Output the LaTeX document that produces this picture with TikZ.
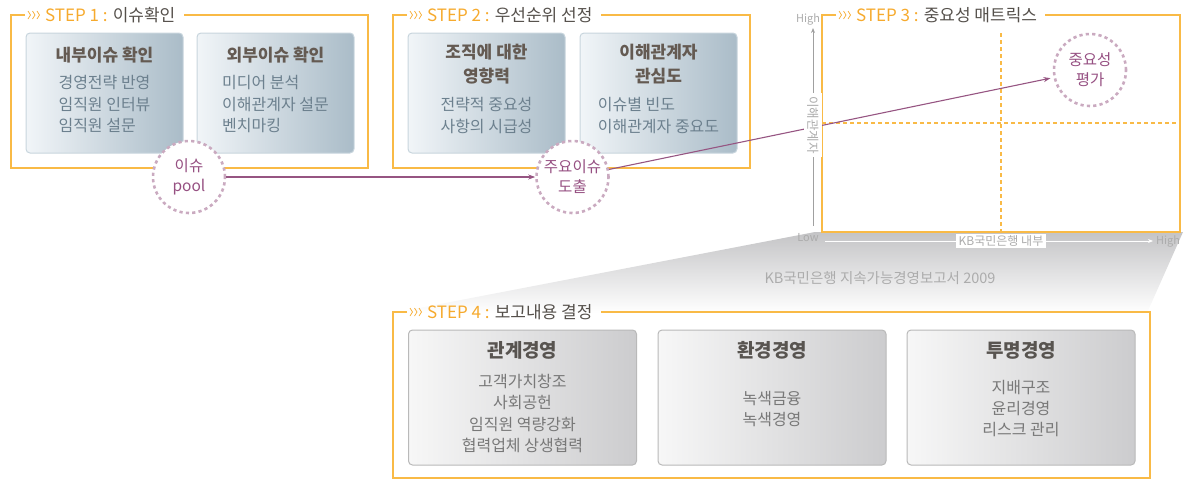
\documentclass[tikz,border=0pt]{standalone}
\usepackage{fontspec}
\setmainfont{Noto Sans CJK KR}
\usetikzlibrary{arrows.meta}
\definecolor{framec}{RGB}{249,186,70}
\definecolor{stepor}{RGB}{246,170,45}
\definecolor{titlec}{RGB}{85,80,75}
\definecolor{pline}{RGB}{150,85,130}
\definecolor{pdash}{RGB}{202,170,192}
\definecolor{ptext}{RGB}{150,80,130}
\definecolor{blueL}{RGB}{241,245,248}
\definecolor{blueR}{RGB}{170,188,200}
\definecolor{bluebd}{RGB}{200,213,221}
\definecolor{btitlec}{RGB}{100,90,82}
\definecolor{bbodyc}{RGB}{108,128,142}
\definecolor{grayL}{RGB}{247,247,247}
\definecolor{grayR}{RGB}{204,204,206}
\definecolor{graybd}{RGB}{185,185,185}
\definecolor{gtitlec}{RGB}{88,84,80}
\definecolor{gbodyc}{RGB}{120,120,120}
\definecolor{shadeT}{RGB}{196,196,198}
\definecolor{axisc}{RGB}{160,160,160}
\definecolor{axlabc}{RGB}{172,172,172}
\tikzset{
  frame/.style={draw=framec, line width=1.3pt},
  framedash/.style={draw=framec, line width=1.2pt, dash pattern=on 4pt off 3pt},
  steptitle/.style={anchor=west, inner sep=1pt, text=stepor, font=\fontsize{17}{17}\selectfont},
  chev/.pic={\foreach \i in {0,4.5,9} \draw[draw=stepor, line width=0.7pt] (\i,-4) -- (\i+2.5,0) -- (\i,4);},
  bluebox/.style={rounded corners=4pt, draw=bluebd, line width=1pt, left color=blueL, right color=blueR, minimum width=157pt, minimum height=120pt, inner sep=0pt},
  graybox/.style={rounded corners=4pt, draw=graybd, line width=1pt, left color=grayL, right color=grayR, minimum width=228pt, minimum height=135pt, inner sep=0pt},
  btitle/.style={text=btitlec, align=center, font=\bfseries\fontsize{17}{24}\selectfont, inner sep=0pt},
  bbody/.style={text=bbodyc, align=left, font=\fontsize{16}{21.5}\selectfont, inner sep=0pt},
  gtitle/.style={text=gtitlec, align=center, font=\bfseries\fontsize{19}{24}\selectfont, inner sep=0pt},
  gbody/.style={text=gbodyc, align=center, font=\fontsize{16}{21.3}\selectfont, inner sep=0pt},
  pcircle/.style={circle, minimum size=72pt, inner sep=0pt, draw=pdash, line width=2.6pt, dash pattern=on 3.2pt off 3.2pt, fill=white, text=ptext, align=center, font=\fontsize{15.5}{20}\selectfont},
  parrow/.style={draw=pline, line width=1.1pt, -{Stealth[length=7pt,width=5pt]}},
  axlab/.style={text=axlabc, inner sep=0pt, font=\fontsize{11}{11}\selectfont},
}
\begin{document}
\begin{tikzpicture}[x=1pt,y=-1pt]
\useasboundingbox (0,0) rectangle (1185,480);

% grey projection
\shade[top color=shadeT, bottom color=white] (815,232) -- (1183,232) -- (1147,313) -- (393,313) -- cycle;

% STEP 1
\pic at (28,15) {chev};
\node[steptitle] (t1) at (44,15) {STEP 1 : \textcolor{titlec}{이슈확인}};
\draw[frame] (25,15) -- (11,15) -- (11,168) -- (368,168) -- (368,15) -- ([xshift=7pt]t1.east);
\node[bluebox] (b11) at (104.5,93) {};
\node[btitle] (b11t) at (104.5,55) {내부이슈 확인};
\node[bbody] (b11b) at (104.5,104.5) {경영전략 반영\\임직원 인터뷰\\임직원 설문};
\node[bluebox] (b12) at (275.5,93) {};
\node[btitle] (b12t) at (275.5,55) {외부이슈 확인};
\node[bbody] (b12b) at (275.5,104.5) {미디어 분석\\이해관계자 설문\\벤치마킹};

% STEP 2
\pic at (410,15) {chev};
\node[steptitle] (t2) at (426,15) {STEP 2 : \textcolor{titlec}{우선순위 선정}};
\draw[frame] (407,15) -- (393,15) -- (393,168) -- (750,168) -- (750,15) -- ([xshift=7pt]t2.east);
\node[bluebox] (b21) at (486.5,93) {};
\node[btitle] (b21t) at (486.5,64) {조직에 대한\\영향력};
\node[bbody] (b21b) at (486.5,115.5) {전략적 중요성\\사항의 시급성};
\node[bluebox] (b22) at (658.5,93) {};
\node[btitle] (b22t) at (658.5,64) {이해관계자\\관심도};
\node[bbody] (b22b) at (658.5,115.5) {이슈별 빈도\\이해관계자 중요도};

% STEP 3
\pic at (839,15) {chev};
\node[steptitle] (t3) at (855,15) {STEP 3 : \textcolor{titlec}{중요성 매트릭스}};
\draw[frame] (836,15) -- (822,15) -- (822,232) -- (1180,232) -- (1180,15) -- ([xshift=7pt]t3.east);
\draw[framedash] (1001,33) -- (1001,232);
\draw[framedash] (822,123) -- (1180,123);

% STEP 4
\pic at (410,312) {chev};
\node[steptitle] (t4) at (426,312) {STEP 4 : \textcolor{titlec}{보고내용 결정}};
\draw[frame] (407,312) -- (393,312) -- (393,478) -- (1150,478) -- (1150,312) -- ([xshift=7pt]t4.east);
\node[graybox] (g1) at (522.5,397.5) {};
\node[gtitle] (g1t) at (522.5,350) {관계경영};
\node[gbody] (g1b) at (522.5,413.5) {고객가치창조\\사회공헌\\임직원 역량강화\\협력업체 상생협력};
\node[graybox] (g2) at (772,397.5) {};
\node[gtitle] (g2t) at (772,350) {환경경영};
\node[gbody] (g2b) at (772,409) {녹색금융\\녹색경영};
\node[graybox] (g3) at (1021,397.5) {};
\node[gtitle] (g3t) at (1021,350) {투명경영};
\node[gbody] (g3b) at (1021,408.5) {지배구조\\윤리경영\\리스크 관리};

\node[text=axlabc, font=\fontsize{14.5}{14.5}\selectfont, inner sep=0pt] (sub) at (880,278) {KB국민은행 지속가능경영보고서 2009};

% circles
\node[pcircle] (c1) at (189,177) {이슈\\pool};
\node[pcircle] (c2) at (572.5,177) {주요이슈\\도출};
\node[pcircle] (c3) at (1090,70) {중요성\\평가};

% axes
\node[axlab] (hiY) at (808,19) {High};
\node[axlab] (loY) at (808,238) {Low};
\node[axlab] (hiX) at (1168,241) {High};
\coordinate (yax0) at (813,226);
\coordinate (yax1) at (813,28);
\draw[draw=axisc, line width=0.9pt, -{Stealth[length=5pt,width=4pt]}] (yax0) -- (yax1);
\coordinate (xax0) at (825,241);
\coordinate (xax1) at (1153,241);
\draw[draw=white, line width=1pt, -{Stealth[length=5pt,width=4pt]}] (xax0) -- (xax1);

% arrows
\draw[parrow] (c1) -- (c2);
\draw[parrow, shorten >=3pt] (c2) -- (c3);

\node[rotate=-90, fill=white, text=axlabc, inner sep=3pt, font=\fontsize{12.5}{12.5}\selectfont] (ylab) at (813,125) {이해관계자};
\node[fill=white, text=axlabc, inner xsep=3pt, inner ysep=2pt, font=\fontsize{12}{12}\selectfont] (xlab) at (1001,241) {KB국민은행 내부};
\end{tikzpicture}
\end{document}
